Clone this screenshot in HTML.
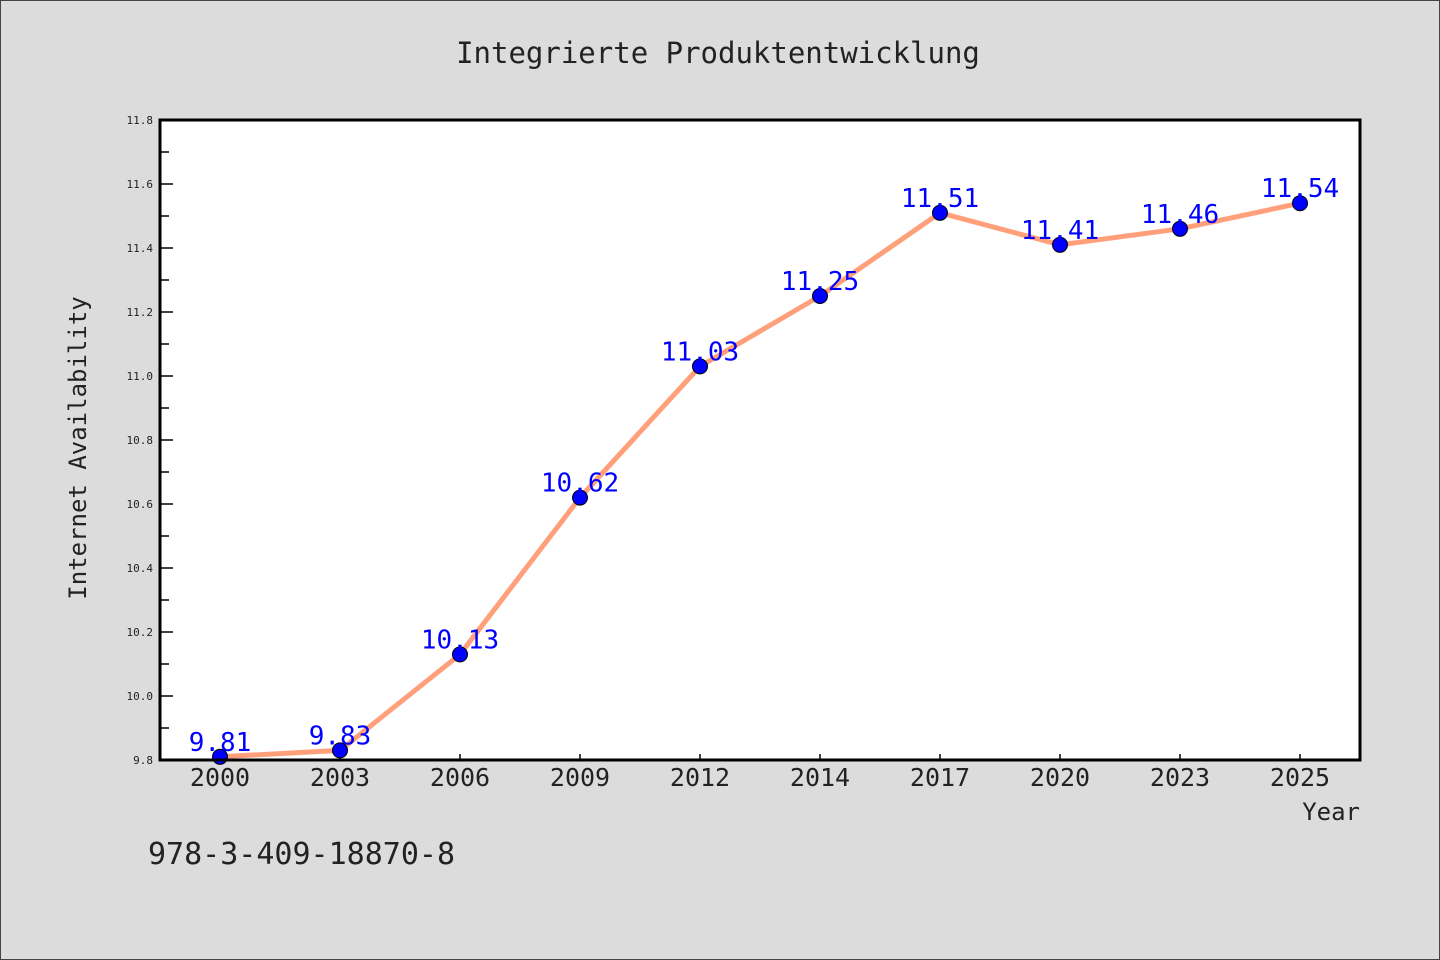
<!DOCTYPE html>
<html><head><meta charset="utf-8"><style>
html,body{margin:0;padding:0;background:#dcdcdc}
svg{display:block}
text{font-family:"WenQuanYi Zen Hei Mono","DejaVu Sans Mono","Liberation Mono",monospace}
</style></head><body>
<svg id="chart" width="1440" height="960">
<rect x="0.5" y="0.5" width="1439" height="959" fill="#dcdcdc" stroke="#444"/>
<text x="718" y="63" font-size="29" text-anchor="middle" fill="#222">Integrierte Produktentwicklung</text>
<rect x="160" y="120" width="1200" height="640" fill="#fff"/>
<g id="marks"></g>
<rect x="160" y="120" width="1200" height="640" fill="none" stroke="#000" stroke-width="3"/>
<text transform="translate(86,448) rotate(-90)" font-size="24" text-anchor="middle" fill="#222">Internet Availability</text>
<text x="1360" y="820" font-size="24" text-anchor="end" fill="#222">Year</text>
<text x="148" y="864" font-size="30" fill="#222">978-3-409-18870-8</text>
</svg>
<script>
const categories=["2000","2003","2006","2009","2012","2014","2017","2020","2023","2025"];
const values=[9.81,9.83,10.13,10.62,11.03,11.25,11.51,11.41,11.46,11.54];
const yTicks=[9.8,10.0,10.2,10.4,10.6,10.8,11.0,11.2,11.4,11.6,11.8];
const yMin=9.8,yMax=11.8;
const X0=160,W=1200,Y0=120,H=640;
const xs=i=>X0+60+i*(W-120)/(categories.length-1);
const ys=v=>Y0+H-(v-yMin)/(yMax-yMin)*H;
const NS="http://www.w3.org/2000/svg";
const g=document.getElementById('marks');
function mk(t,a){const e=document.createElementNS(NS,t);for(const k in a)e.setAttribute(k,a[k]);g.appendChild(e);return e;}
yTicks.forEach((v,i)=>{
  const y=ys(v);
  const t=mk('line',{x1:X0,x2:X0+13,y1:y,y2:y,stroke:'#000','stroke-width':1.5});
  
  
  const l=mk('text',{x:X0-7,y:y+4,'font-size':11,'text-anchor':'end',fill:'#222'});
  l.textContent=v.toFixed(1);
  
  
  if(i<yTicks.length-1){
    const ym=ys(v+0.1);
    const m=mk('line',{x1:X0,x2:X0+9,y1:ym,y2:ym,stroke:'#000','stroke-width':1.5});
    
    
  }
});
categories.forEach((c,i)=>{
  const x=xs(i);
  const t=mk('line',{x1:x,x2:x,y1:Y0+H,y2:Y0+H-6,stroke:'#000','stroke-width':1.5});
  
  
  const l=mk('text',{x:x,y:Y0+H+26,'font-size':25,'text-anchor':'middle',fill:'#222'});
  l.textContent=c;
  
  
});
const line=mk('polyline',{points:values.map((v,i)=>xs(i)+','+ys(v)).join(' '),fill:'none',stroke:'#ffa07a','stroke-width':5,'stroke-linejoin':'round'});


values.forEach((v,i)=>{
  const p=mk('circle',{cx:xs(i),cy:ys(v),r:7.5,fill:'#0000ff',stroke:'#000','stroke-width':1});
  
  
  const l=mk('text',{x:xs(i),y:ys(v)-6,'font-size':26,'text-anchor':'middle',fill:'#0000ff'});
  l.textContent=v.toFixed(2);
  
  
});
</script>
</body></html>
